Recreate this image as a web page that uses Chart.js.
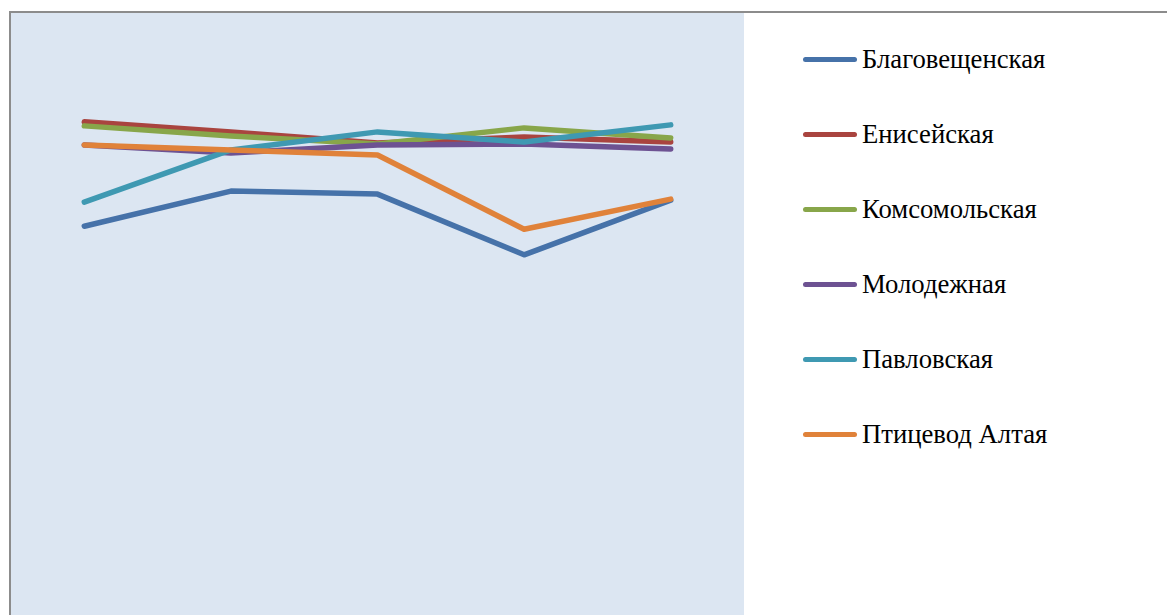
<!DOCTYPE html>
<html>
<head>
<meta charset="utf-8">
<title>Поголовье</title>
<script src="https://cdn.jsdelivr.net/npm/chart.js@4.4.1/dist/chart.umd.min.js"></script>
<style>
  html, body { margin: 0; padding: 0; background: #fff; overflow: hidden; }
  body { width: 1167px; height: 615px; position: relative; }
  #frame {
    position: absolute; left: 9px; top: 11px; width: 1158px; height: 604px;
    border-top: 2px solid #8c8c8c; border-left: 2px solid #8c8c8c;
  }
  #plot { position: absolute; left: 0; top: 0; width: 733px; height: 602px; background: #dce6f2; }
  #legend { position: absolute; left: 0; top: 0; margin: 0; padding: 0; list-style: none; }
  #legend li {
    position: absolute; left: 792px; height: 30px; display: flex; align-items: center;
    white-space: nowrap; font-family: "Times New Roman", "Liberation Serif", serif;
    font-size: 26.7px; color: #000;
  }
  #legend .swatch { width: 54px; height: 5px; border-radius: 3px; margin-right: 5px; }
</style>
</head>
<body>
<div id="frame">
  <div id="plot"><canvas id="lines-chart"></canvas></div>
  <ul id="legend"></ul>
</div>
<script>
// хозяйства и годы
var farms = ['Благовещенская', 'Енисейская', 'Комсомольская', 'Молодежная', 'Павловская', 'Птицевод Алтая'];
var years = ['2008', '2009', '2010', '2011', '2012'];
var colors = ['#4672a9', '#a9443f', '#88a64a', '#6d5292', '#3f99b2', '#e0823a'];

// показатели по годам
var blagoveshchenskaya = [0.775, 0.845, 0.839, 0.718, 0.827];
var eniseiskaya        = [0.983, 0.963, 0.941, 0.953, 0.943];
var komsomolskaya      = [0.975, 0.955, 0.939, 0.971, 0.951];
var molodezhnaya       = [0.937, 0.921, 0.937, 0.939, 0.929];
var pavlovskaya        = [0.823, 0.927, 0.963, 0.943, 0.977];
var ptitsevod          = [0.937, 0.927, 0.917, 0.769, 0.829];

var series = [blagoveshchenskaya, eniseiskaya, komsomolskaya, molodezhnaya, pavlovskaya, ptitsevod];

var datasets = series.map(function (values, i) {
  return {
    label: farms[i],
    data: values,
    borderColor: colors[i],
    backgroundColor: colors[i],
    borderWidth: 5.5,
    borderCapStyle: 'round',
    borderJoinStyle: 'round',
    pointRadius: 0,
    tension: 0,
    fill: false,
    order: series.length - i // последняя серия поверх остальных
  };
});

var linesChart = new Chart(document.getElementById('lines-chart'), {
  type: 'line',
  data: {
    labels: years,
    datasets: datasets
  },
  options: {
    responsive: true,
    maintainAspectRatio: false,
    animation: false,
    layout: { padding: 0 },
    scales: {
      x: { display: false, offset: true },
      y: { display: false, min: 0, max: 1.2 }
    },
    plugins: {
      legend: { display: false },
      tooltip: { enabled: false }
    }
  }
});

// легенда справа
var legend = document.getElementById('legend');
linesChart.data.datasets.forEach(function (ds, i) {
  var li = document.createElement('li');
  li.style.top = (31 + i * 75) + 'px';
  var sw = document.createElement('span');
  sw.className = 'swatch';
  sw.style.background = ds.borderColor;
  li.appendChild(sw);
  li.appendChild(document.createTextNode(ds.label));
  legend.appendChild(li);
});
</script>
</body>
</html>
